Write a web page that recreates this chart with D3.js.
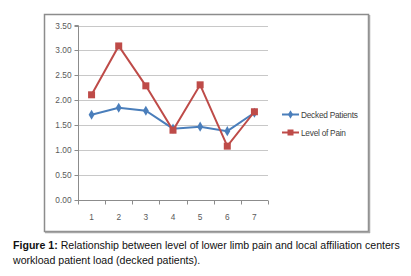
<!DOCTYPE html>
<html><head><meta charset="utf-8">
<script src="https://cdn.jsdelivr.net/npm/d3@7"></script>
<style>body{margin:0;background:#fff}svg{display:block}</style>
</head><body>
<script>
const categories = ["1","2","3","4","5","6","7"];
const decked = [1.71, 1.85, 1.79, 1.43, 1.47, 1.38, 1.75];
const pain = [2.11, 3.09, 2.29, 1.40, 2.31, 1.08, 1.77];
const yTicks = [0, 0.5, 1, 1.5, 2, 2.5, 3, 3.5];
const seriesNames = ["Decked Patients", "Level of Pain"];
const colors = ["#4a7ebb", "#be4b48"];

const W = 411, H = 276;
const svg = d3.select("body").append("svg").attr("width", W).attr("height", H);

// outer frame
svg.append("rect").attr("x", 44.5).attr("y", 14.5).attr("width", 324).attr("height", 217)
  .attr("fill", "#fff").attr("stroke", "#8c8c8c").attr("stroke-width", 1.5);
svg.append("line").attr("x1", 369.5).attr("x2", 369.5).attr("y1", 15).attr("y2", 233)
  .attr("stroke", "#a6a6a6").attr("stroke-width", 1.5);
svg.append("line").attr("x1", 45).attr("x2", 370).attr("y1", 232.5).attr("y2", 232.5)
  .attr("stroke", "#a6a6a6").attr("stroke-width", 1.5);

const x = d3.scaleBand().domain(categories).range([78, 268]);
const y = d3.scaleLinear().domain([0, 3.5]).range([200, 25.5]);

// gridlines
svg.append("g").selectAll("line").data(yTicks.slice(1)).join("line")
  .attr("x1", 78).attr("x2", 268)
  .attr("y1", d => Math.round(y(d)) + 0.5).attr("y2", d => Math.round(y(d)) + 0.5)
  .attr("stroke", "#c8c8c8").attr("stroke-width", 1);

// y axis
const ya = svg.append("g").attr("transform", "translate(78.5,0)")
  .call(d3.axisLeft(y).tickValues(yTicks).tickFormat(d3.format(".2f")).tickSize(4).tickPadding(3));
ya.select(".domain").attr("stroke", "#8c8c8c").attr("d", `M-4,${y(3.5)}H0V${y(0)}`);
ya.selectAll(".tick line").attr("stroke", "#8c8c8c");
ya.selectAll(".tick").attr("transform", d => `translate(0,${Math.round(y(d)) + 0.5})`);
ya.selectAll("text").attr("fill", "#595959").style("font-family", "Liberation Sans, Arial").style("font-size", "8.3px");

// x axis
const xa = svg.append("g").attr("transform", `translate(0,${Math.round(y(0)) + 0.5})`);
xa.append("line").attr("x1", 78).attr("x2", 268).attr("stroke", "#8c8c8c");
const bounds = categories.map(c => x(c)).concat([x.range()[1]]);
xa.selectAll("line.t").data(bounds).join("line").attr("class", "t")
  .attr("x1", d => Math.round(d) + 0.5).attr("x2", d => Math.round(d) + 0.5)
  .attr("y1", 0).attr("y2", 4).attr("stroke", "#8c8c8c");
xa.selectAll("text").data(categories).join("text")
  .attr("x", d => x(d) + x.bandwidth() / 2).attr("y", 19)
  .attr("text-anchor", "middle").attr("fill", "#595959")
  .style("font-family", "Liberation Sans, Arial").style("font-size", "8.3px").text(d => d);

const cx = c => x(c) + x.bandwidth() / 2;
const line = d3.line().x((d, i) => cx(categories[i])).y(d => y(d));

// decked line
svg.append("path").datum(decked).attr("d", line).attr("fill", "none")
  .attr("stroke", colors[0]).attr("stroke-width", 2);
svg.append("g").selectAll("path").data(decked).join("path")
  .attr("d", d3.symbol(d3.symbolDiamond, 30))
  .attr("transform", (d, i) => `translate(${cx(categories[i])},${y(d)})`)
  .attr("fill", colors[0]);

// pain line
svg.append("path").datum(pain).attr("d", line).attr("fill", "none")
  .attr("stroke", colors[1]).attr("stroke-width", 2);
svg.append("g").selectAll("rect").data(pain).join("rect")
  .attr("x", (d, i) => cx(categories[i]) - 3.5).attr("y", d => y(d) - 3.5)
  .attr("width", 7).attr("height", 7).attr("fill", colors[1]);

// legend
const lg = svg.append("g");
const ly = [114.5, 132.5];
seriesNames.forEach((n, i) => {
  lg.append("line").attr("x1", 282).attr("x2", 299).attr("y1", ly[i]).attr("y2", ly[i])
    .attr("stroke", colors[i]).attr("stroke-width", 2);
  if (i === 0) {
    lg.append("path").attr("d", d3.symbol(d3.symbolDiamond, 22))
      .attr("transform", `translate(290.5,${ly[i]})`).attr("fill", colors[i]);
  } else {
    lg.append("rect").attr("x", 287.5).attr("y", ly[i] - 3).attr("width", 6).attr("height", 6).attr("fill", colors[i]);
  }
  lg.append("text").attr("x", 301).attr("y", ly[i] + 3).attr("fill", "#404040")
    .style("font-family", "Liberation Sans, Arial").style("font-size", "8.3px").style("letter-spacing", "-0.25px").text(n);
});

// caption
const cap = svg.append("text").style("font-family", "Liberation Sans, Arial").style("font-size", "10.6px").attr("fill", "#111");
const t1 = cap.append("tspan").attr("x", 13).attr("y", 249);
t1.append("tspan").style("font-weight", "bold").text("Figure 1:");
t1.append("tspan").text(" Relationship between level of lower limb pain and local affiliation centers");
cap.append("tspan").attr("x", 13).attr("y", 264).text("workload patient load (decked patients).");
</script>
</body></html>
